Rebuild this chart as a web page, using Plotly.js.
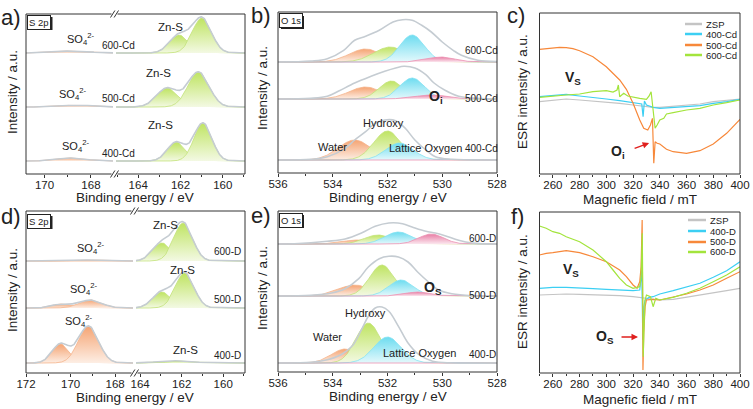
<!DOCTYPE html>
<html><head><meta charset="utf-8">
<script src="https://cdn.plot.ly/plotly-3.0.1.min.js"></script>
<style>html,body{margin:0;padding:0;background:#fff;}#plot{width:753px;height:409px;}</style>
</head><body><div id="plot"></div>
<script>
// ---------------- DATA ----------------
// Panel a (S 2p, Cd samples) - order: 600-Cd, 500-Cd, 400-Cd
const A_SAMPLES = ['600-Cd','500-Cd','400-Cd'];
const A_BASE = [121, 67, 13];
const A_ZNS1_E = [160.99, 161.15, 160.94];
const A_ZNS1_AMP = [35, 35, 38];
const A_ZNS1_SIG = [0.45, 0.5, 0.42];
const A_ZNS2_E = [162.07, 162.63, 162.2];
const A_ZNS2_AMP = [18, 19, 19];
const A_ZNS2_SIG = [0.45, 0.5, 0.42];
const A_SO4_E = [168.8, 168.6, 168.85];
const A_SO4_AMP = [2, 1.8, 3];
const A_SO4_SIG = [0.7, 0.7, 0.6];

// Panel b (O 1s, Cd samples)
const B_SAMPLES = ['600-Cd','500-Cd','400-Cd'];
const B_BASE = [111, 74, 13];
const B_WATER_E = [532.8, 532.8, 533.2];
const B_WATER_AMP = [13, 12, 20];
const B_WATER_SIG = [0.6, 0.6, 0.6];
const B_HYD_E = [531.9, 531.85, 532.0];
const B_HYD_AMP = [15, 18, 29];
const B_HYD_SIG = [0.6, 0.45, 0.5];
const B_LAT_E = [531.1, 531.1, 531.56];
const B_LAT_AMP = [27, 21, 17];
const B_LAT_SIG = [0.45, 0.45, 0.5];
const B_OI_E = [530.05, 530.4, 530.2];
const B_OI_AMP = [5, 4, 0];
const B_OI_SIG = [0.5, 0.6, 0.5];
// measured envelopes (height above baseline)
const B_ENV_600_E = [536,534.8,534.2,533.6,533.2,532.8,532.3,531.8,531.45,531.1,530.75,530.4,530.0,529.6,529.3,528.7,528];
const B_ENV_600_H = [0,1,3.3,11.7,21.7,25.7,31.7,40,42.3,41.7,36.7,30,20,11.7,6.7,1.7,0.5];
const B_ENV_500_E = [536,534.8,534.2,533.8,533.2,532.6,532.1,531.7,531.4,531.0,530.6,530.3,529.9,529.4,528.7,528];
const B_ENV_500_H = [0,0.7,2.7,7.7,16,22.7,27.7,31,32.7,31,24.3,16,8.7,2.7,0.7,0];
const B_ENV_400_E = [536,534.8,534.2,533.55,533.2,532.8,532.45,532.1,531.7,531.35,531.0,530.6,530.25,529.65,528];
const B_ENV_400_H = [0,0.7,3.3,11.7,20,28.3,36.7,40,39.3,31.7,20,10,3.3,0.7,0];

// Panel c (ESR, Cd samples)
const C_SERIES = ['ZSP','400-Cd','500-Cd','600-Cd'];
const C_ZSP_X = [250,260,270,280,290,300,310,320,330,335,340,350,360,370,380,390,400];
const C_ZSP_Y = [72.3,74,75,74,73,72.3,70.7,69,67.3,66.7,66.7,68,69,70,72.3,74,75];
const C_400_X = [250,260,270,280,290,300,310,320,325,326.5,327.5,328.5,330,335,340,350,360,370,380,390,400];
const C_400_Y = [77.3,78.3,79.7,78,76.7,75,73.3,71.3,70.7,70,57.3,73,69,66.7,65.7,66.7,67.3,68.3,70.7,72.3,74.7];
const C_500_X = [250,255,260,265,270,275,280,290,300,310,315,320,325,328,331,333,334.5,335.5,336.5,338,340,345,350,360,370,380,390,400];
const C_500_Y = [124.7,125.3,126.3,126.7,126.3,125.3,123.3,117.3,107.3,94,84.7,70.7,54,45.7,44,49,55.7,10.7,32.3,30.7,30,24.7,22.3,20.7,23.3,30,40.7,54.7];
const C_600_X = [250,260,270,280,290,300,305,308,309,310,313,316,320,325,330,332,333.5,335,336.5,338,340,343,345,350,360,370,380,390,400];
const C_600_Y = [76.7,77.5,79,80,82.3,83.3,82,84,89,77.3,80.7,78,76.7,75.7,74.7,78,82.3,60.7,45.7,49,54,55.7,60,61.3,64,65.7,69,71.3,74];

// Panel d (S 2p, D samples) - order: 600-D, 500-D, 400-D
const D_SAMPLES = ['600-D','500-D','400-D'];
const D_BASE = [112, 65, 10];
const D_ZNS1_E = [161.93, 161.86, 162.0];
const D_ZNS1_AMP = [38, 35, 2];
const D_ZNS1_SIG = [0.45, 0.45, 0.6];
const D_ZNS2_E = [162.95, 162.95, 163.0];
const D_ZNS2_AMP = [18, 16, 1];
const D_ZNS2_SIG = [0.45, 0.45, 0.6];
const D_SO4A_E = [170.3, 170.4, 170.45];
const D_SO4A_AMP = [0.5, 4, 19];
const D_SO4A_SIG = [0.5, 0.42, 0.38];
const D_SO4B_E = [169.0, 169.1, 169.2];
const D_SO4B_AMP = [1, 8, 37];
const D_SO4B_SIG = [0.5, 0.5, 0.45];

// Panel e (O 1s, D samples)
const E_SAMPLES = ['600-D','500-D','400-D'];
const E_BASE = [128, 76, 9];
const E_WATER_E = [533.1, 533.2, 533.55];
const E_WATER_AMP = [4, 11, 14];
const E_WATER_SIG = [0.55, 0.6, 0.5];
const E_HYD_E = [532.35, 532.2, 532.7];
const E_HYD_AMP = [9, 31, 40];
const E_HYD_SIG = [0.5, 0.45, 0.45];
const E_LAT_E = [531.6, 531.5, 532.0];
const E_LAT_AMP = [12, 16, 26];
const E_LAT_SIG = [0.5, 0.45, 0.5];
const E_OS_E = [530.4, 530.9, 530.5];
const E_OS_AMP = [10, 4, 0];
const E_OS_SIG = [0.45, 0.45, 0.5];
const E_ENV_600_E = [536,535.4,534.2,533.55,532.95,532.45,531.95,531.45,531.1,530.6,530.25,529.9,529.4,528.9,528];
const E_ENV_600_H = [0,0.3,2.7,5,11,17.7,21,20.3,17,12.7,11,8.3,3.7,1,0];
const E_ENV_500_E = [536,534.8,534.05,533.55,533.05,532.7,532.3,531.95,531.6,531.25,530.9,530.5,530.15,529.65,528.9,528];
const E_ENV_500_H = [0,0.7,3,7.3,17.3,29,37.3,39.7,39,34,24,14,6.3,2.3,0.3,0];
const E_ENV_400_E = [536,534.8,534.2,533.7,533.3,532.95,532.7,532.45,532.2,531.95,531.6,531.25,530.85,530.35,529.65,528];
const E_ENV_400_H = [0,0.7,3.3,8.3,16.7,33.3,46.7,55,56,51.7,36.7,20,8.3,1.7,0,0];

// Panel f (ESR, D samples)
const F_SERIES = ['ZSP','400-D','500-D','600-D'];
const F_ZSP_X = [250,260,270,280,290,300,310,320,330,340,350,360,370,380,390,400];
const F_ZSP_Y = [78,78.7,79,78.7,78.3,78,77.3,76.3,74.7,73,73.7,75.7,77.7,79.7,82.3,84.7];
const F_400_X = [250,260,270,280,290,300,310,320,325,326.5,327.3,328,329,332,335,340,350,360,370,380,390,400];
const F_400_Y = [84.7,85.7,85.7,84.7,84.3,83.7,83,82.3,83,103,33,66.3,73,75.7,76.3,79,82.3,85.7,89.7,95.7,102.3,111.3];
const F_500_X = [250,255,260,265,270,275,280,290,300,310,315,320,323,325,326,326.8,327.4,328,329,330,335,340,350,360,370,380,390,400];
const F_500_Y = [118,119.7,120.3,121.3,122.3,121.3,120.3,116.3,111.3,103,96.3,88,84.7,91.3,106.3,153,3,39.7,66.3,73,73.7,73,75.7,79,83,88,94.7,101.3];
const F_600_X = [250,255,260,265,270,280,290,300,305,310,315,320,325,326,326.9,327.6,328.2,329,330,333,335,337,340,350,360,370,380,390,400];
const F_600_Y = [147,144.7,141.3,139.7,136.3,131.3,123,111.3,103,94.7,88,84.7,86.3,96.3,139.7,16.3,46.3,73,78,76.3,66.3,74.7,73,75.7,79.7,84.7,91.3,98,106.3];

// ---------------- STYLE ----------------
const W = 753, H = 409;
const FONT = 'Liberation Sans, Arial, sans-serif';
const fx = p => p / W;
const fy = p => 1 - p / H;
const COL = {
  green: {line:'#c3e27a', scale:[[0,'#f3f9e3'],[1,'#bfe462']]},
  orange:{line:'#f5b48c', scale:[[0,'#fdeee4'],[1,'#f5a473']]},
  cyan:  {line:'#84e2f2', scale:[[0,'#e4f9fc'],[1,'#6ddcf0']]},
  pink:  {line:'#ec92b2', scale:[[0,'#fbe6ee'],[1,'#e87ea5']]}
};
const ENV = '#c5ccd2';

function curve(xmin, xmax, comps, base) {
  const xs = [], ys = [];
  const n = Math.round((xmax - xmin) / 0.02);
  for (let i = 0; i <= n; i++) {
    const x = xmin + i * (xmax - xmin) / n;
    let y = base;
    comps.forEach(c => { y += c.a * Math.exp(-((x - c.e) ** 2) / (2 * c.s * c.s)); });
    xs.push(x); ys.push(y);
  }
  return {xs, ys};
}
const traces = [];
function addComp(xa, ya, xmin, xmax, comp, base, color) {
  const c = curve(xmin, xmax, [comp], base);
  traces.push({type:'scatter', mode:'lines', x:c.xs, y:c.ys, xaxis:xa, yaxis:ya,
    fill:'toself', fillgradient:{type:'vertical', colorscale:COL[color].scale},
    line:{color:COL[color].line, width:0.8}, hoverinfo:'skip', showlegend:false});
}
function addEnv(xa, ya, xmin, xmax, comps, base) {
  const c = curve(xmin, xmax, comps, base);
  traces.push({type:'scatter', mode:'lines', x:c.xs, y:c.ys, xaxis:xa, yaxis:ya,
    line:{color:ENV, width:1.6}, hoverinfo:'skip', showlegend:false});
}
function addMeasEnv(xa, ya, es, hs, base) {
  traces.push({type:'scatter', mode:'lines', x:es, y:hs.map(h => h + base), xaxis:xa, yaxis:ya,
    line:{color:ENV, width:1.6, shape:'spline', smoothing:1}, hoverinfo:'skip', showlegend:false});
}

// Panel a
const A_L = [170.8, 167.05], A_R = [165.05, 158.95];
for (let i = 0; i < 3; i++) {
  const so4 = {e:A_SO4_E[i], a:A_SO4_AMP[i], s:A_SO4_SIG[i]};
  const z1 = {e:A_ZNS1_E[i], a:A_ZNS1_AMP[i], s:A_ZNS1_SIG[i]};
  const z2 = {e:A_ZNS2_E[i], a:A_ZNS2_AMP[i], s:A_ZNS2_SIG[i]};
  addComp('x','y', A_L[1], A_L[0], so4, A_BASE[i], 'orange');
  addEnv('x','y', A_L[1], A_L[0], [so4], A_BASE[i]);
  addComp('x2','y', A_R[1], A_R[0], z2, A_BASE[i], 'green');
  addComp('x2','y', A_R[1], A_R[0], z1, A_BASE[i], 'green');
  addEnv('x2','y', A_R[1], A_R[0], [z1, z2], A_BASE[i]);
}
// Panel d
const D_L = [172.0, 167.2], D_R = [164.2, 158.95];
for (let i = 0; i < 3; i++) {
  const sa = {e:D_SO4A_E[i], a:D_SO4A_AMP[i], s:D_SO4A_SIG[i]};
  const sb = {e:D_SO4B_E[i], a:D_SO4B_AMP[i], s:D_SO4B_SIG[i]};
  const z1 = {e:D_ZNS1_E[i], a:D_ZNS1_AMP[i], s:D_ZNS1_SIG[i]};
  const z2 = {e:D_ZNS2_E[i], a:D_ZNS2_AMP[i], s:D_ZNS2_SIG[i]};
  addComp('x5','y5', D_L[1], D_L[0], sa, D_BASE[i], 'orange');
  addComp('x5','y5', D_L[1], D_L[0], sb, D_BASE[i], 'orange');
  addEnv('x5','y5', D_L[1], D_L[0], [sa, sb], D_BASE[i]);
  addComp('x6','y5', D_R[1], D_R[0], z2, D_BASE[i], 'green');
  addComp('x6','y5', D_R[1], D_R[0], z1, D_BASE[i], 'green');
  addEnv('x6','y5', D_R[1], D_R[0], [z1, z2], D_BASE[i]);
}
// Panels b, e
function o1s(xa, ya, BASE, WE, WA, WS, HE, HA, HS, LE, LA, LS, OE, OA, OS, ENVS) {
  for (let i = 0; i < 3; i++) {
    const w = {e:WE[i], a:WA[i], s:WS[i]}, h = {e:HE[i], a:HA[i], s:HS[i]};
    const l = {e:LE[i], a:LA[i], s:LS[i]}, o = {e:OE[i], a:OA[i], s:OS[i]};
    addComp(xa, ya, 528, 536, w, BASE[i], 'orange');
    addComp(xa, ya, 528, 536, h, BASE[i], 'green');
    addComp(xa, ya, 528, 536, l, BASE[i], 'cyan');
    addComp(xa, ya, 528, 536, o, BASE[i], 'pink');
    addMeasEnv(xa, ya, ENVS[i][0], ENVS[i][1], BASE[i]);
  }
}
o1s('x3','y3', B_BASE, B_WATER_E, B_WATER_AMP, B_WATER_SIG, B_HYD_E, B_HYD_AMP, B_HYD_SIG, B_LAT_E, B_LAT_AMP, B_LAT_SIG, B_OI_E, B_OI_AMP, B_OI_SIG,
  [[B_ENV_600_E, B_ENV_600_H], [B_ENV_500_E, B_ENV_500_H], [B_ENV_400_E, B_ENV_400_H]]);
o1s('x7','y7', E_BASE, E_WATER_E, E_WATER_AMP, E_WATER_SIG, E_HYD_E, E_HYD_AMP, E_HYD_SIG, E_LAT_E, E_LAT_AMP, E_LAT_SIG, E_OS_E, E_OS_AMP, E_OS_SIG,
  [[E_ENV_600_E, E_ENV_600_H], [E_ENV_500_E, E_ENV_500_H], [E_ENV_400_E, E_ENV_400_H]]);

// ESR
const ESR_COL = ['#c4c4c4', '#3ccff3', '#f7883a', '#a3e43c'];
[[C_ZSP_X,C_ZSP_Y],[C_400_X,C_400_Y],[C_500_X,C_500_Y],[C_600_X,C_600_Y]].forEach((d, i) => {
  traces.push({type:'scatter', mode:'lines', x:d[0], y:d[1], xaxis:'x4', yaxis:'y4', name:C_SERIES[i],
    line:{color:ESR_COL[i], width:1.2}, showlegend:false, hoverinfo:'skip'});
});
[[F_ZSP_X,F_ZSP_Y],[F_400_X,F_400_Y],[F_500_X,F_500_Y],[F_600_X,F_600_Y]].forEach((d, i) => {
  traces.push({type:'scatter', mode:'lines', x:d[0], y:d[1], xaxis:'x8', yaxis:'y8', name:F_SERIES[i],
    line:{color:ESR_COL[i], width:1.2}, showlegend:false, hoverinfo:'skip'});
});

// ---------------- LAYOUT ----------------
function xax(px0, px1, range, anchor, dtick, mdtick) {
  return {domain:[fx(px0), fx(px1)], range:range, anchor:anchor, showgrid:false, zeroline:false,
    showline:false, ticks:'outside', ticklen:3, tickwidth:1, tickcolor:'#333', dtick:dtick, tick0:0,
    ticklabelstandoff:-3,
    minor:{ticks:'outside', ticklen:2, dtick:mdtick, tick0:0, tickcolor:'#333', showgrid:false},
    tickfont:{size:11.5, color:'#222', family:FONT}, fixedrange:true};
}
function yax(py0, py1, range, anchor) {
  return {domain:[fy(py1), fy(py0)], range:range, anchor:anchor, showgrid:false, zeroline:false,
    showline:false, showticklabels:false, ticks:'', fixedrange:true};
}
const layout = {
  width:W, height:H, margin:{l:0, r:0, t:0, b:0}, paper_bgcolor:'#fff', plot_bgcolor:'rgba(0,0,0,0)',
  showlegend:false, font:{family:FONT, color:'#222'},
  xaxis: xax(26, 113, [A_L[0], A_L[1]], 'y', 2, 1),
  xaxis2: xax(116, 245, [A_R[0], A_R[1]], 'y', 2, 1),
  yaxis: yax(14, 174, [0, 160], 'x'),
  xaxis3: xax(278, 497, [536, 528], 'y3', 2, 1),
  yaxis3: yax(12, 173, [0, 161], 'x3'),
  xaxis4: xax(539.5, 740, [250, 400], 'y4', 20, 10),
  yaxis4: yax(13, 174, [0, 161], 'x4'),
  xaxis5: xax(26, 133, [D_L[0], D_L[1]], 'y5', 2, 1),
  xaxis6: xax(136, 245, [D_R[0], D_R[1]], 'y5', 2, 1),
  yaxis5: yax(211, 373, [0, 162], 'x5'),
  xaxis7: xax(278, 497, [536, 528], 'y7', 2, 1),
  yaxis7: yax(211, 372, [0, 161], 'x7'),
  xaxis8: xax(539.5, 740, [250, 400], 'y8', 20, 10),
  yaxis8: yax(212, 373, [0, 161], 'x8'),
  shapes: [], annotations: []
};
function frame(x0, y0, x1, y1) {
  layout.shapes.push({type:'rect', xref:'paper', yref:'paper', x0:fx(x0), x1:fx(x1), y0:fy(y1), y1:fy(y0),
    line:{color:'#333', width:1}, fillcolor:'rgba(0,0,0,0)', layer:'above'});
}
frame(26, 14, 245, 174); frame(278, 12, 497, 173); frame(539.5, 13, 740, 174);
frame(26, 211, 245, 373); frame(278, 211, 497, 372); frame(539.5, 212, 740, 373);
function brk(px, py) {
  layout.shapes.push({type:'rect', xref:'paper', yref:'paper', x0:fx(px-3), x1:fx(px+3), y0:fy(py+1), y1:fy(py-1),
    line:{width:0}, fillcolor:'#fff', layer:'above'});
  [-1.8, 1.8].forEach(d => layout.shapes.push({type:'line', xref:'paper', yref:'paper',
    x0:fx(px+d-2.2), x1:fx(px+d+2.2), y0:fy(py+3.5), y1:fy(py-3.5), line:{color:'#333', width:1}, layer:'above'}));
}
brk(114.5, 174); brk(114.5, 14); brk(134.5, 373); brk(134.5, 211);
// drop shadows of the little boxed labels
function shadow(x0, y0, x1, y1) {
  layout.shapes.push({type:'rect', xref:'paper', yref:'paper', x0:fx(x0), x1:fx(x1), y0:fy(y1), y1:fy(y0),
    line:{width:0}, fillcolor:'#222', layer:'above'});
}
shadow(29, 17, 52.5, 30); shadow(281, 16, 304, 29); shadow(29, 216, 52.5, 229); shadow(281, 215, 304, 228);

function ann(text, px, py, size, extra) {
  layout.annotations.push(Object.assign({text:text, x:fx(px), y:fy(py), xref:'paper', yref:'paper',
    showarrow:false, xanchor:'center', yanchor:'middle', font:{size:size, color:'#222', family:FONT}}, extra || {}));
}
// panel letters
ann('a)', 11, 17, 22); ann('b)', 261, 15, 22); ann('c)', 516, 15, 22);
ann('d)', 11, 217, 22); ann('e)', 261, 215, 22); ann('f)', 517, 217, 22);
// boxes
const boxStyle = {bordercolor:'#222', borderwidth:1, bgcolor:'#fff', borderpad:1};
ann('S 2p', 39, 22, 9.5, boxStyle); ann('O 1s', 291, 21, 9.5, boxStyle);
ann('S 2p', 39, 221, 9.5, boxStyle); ann('O 1s', 291, 220, 9.5, boxStyle);
// axis titles
ann('Binding energy / eV', 135, 197, 13.5); ann('Binding energy / eV', 388, 197, 13.5);
ann('Magnefic field / mT', 640, 199, 13.5);
ann('Binding energy / eV', 135, 397, 13.5); ann('Binding energy / eV', 388, 396, 13.5);
ann('Magnefic field / mT', 640, 399, 13.5);
ann('Intensity / a.u.', 12, 92, 13.5, {textangle:-90}); ann('Intensity / a.u.', 262, 88, 13.5, {textangle:-90});
ann('ESR intensity / a.u.', 522, 92, 13.5, {textangle:-90});
ann('Intensity / a.u.', 12, 290, 13.5, {textangle:-90}); ann('Intensity / a.u.', 262, 288, 13.5, {textangle:-90});
ann('ESR intensity / a.u.', 522, 292, 13.5, {textangle:-90});
// panel a labels
const SO4 = 'SO<sub>4</sub><sup>2-</sup>';
ann('Zn-S', 170, 27, 11.5); ann(SO4, 80, 39, 11); ann(A_SAMPLES[0], 118, 45, 10);
ann('Zn-S', 158, 73, 11.5); ann(SO4, 72, 94, 11); ann(A_SAMPLES[1], 118, 98, 10);
ann('Zn-S', 160, 125, 11.5); ann(SO4, 75, 146, 11); ann(A_SAMPLES[2], 118, 153, 10);
// panel b labels
ann(B_SAMPLES[0], 481, 50, 10); ann(B_SAMPLES[1], 481, 99, 10); ann(B_SAMPLES[2], 481, 149, 10);
ann('<b>O<sub>i</sub></b>', 436, 97, 14);
ann('Hydroxy', 383, 123, 11); ann('Water', 332, 147, 11); ann('Lattice Oxygen', 425, 148, 11);
// panel d labels
ann('Zn-S', 165, 225, 11.5); ann(SO4, 90, 248, 11); ann(D_SAMPLES[0], 227, 252, 10);
ann('Zn-S', 182, 270, 11.5); ann(SO4, 83, 289, 11); ann(D_SAMPLES[1], 227, 299, 10);
ann(SO4, 78, 321, 11); ann('Zn-S', 185, 350, 11.5); ann(D_SAMPLES[2], 227, 355, 10);
// panel e labels
ann(E_SAMPLES[0], 482, 238, 10); ann(E_SAMPLES[1], 482, 295, 10); ann(E_SAMPLES[2], 482, 354, 10);
ann('<b>O<sub>S</sub></b>', 433, 288, 14);
ann('Hydroxy', 365, 313, 11); ann('Water', 327, 337, 11); ann('Lattice Oxygen', 420, 353, 11);
// panel c/f labels
ann('<b>V<sub>S</sub></b>', 573, 78, 14); ann('<b>O<sub>i</sub></b>', 618, 152, 14);
ann('<b>V<sub>S</sub></b>', 571, 270, 14); ann('<b>O<sub>S</sub></b>', 605, 337, 14);
// arrows
layout.annotations.push({xref:'x4', yref:'y4', x:332, y:31, ax:-16, ay:6, text:'', showarrow:true,
  arrowhead:2, arrowsize:1, arrowwidth:1.3, arrowcolor:'#e0201e'});
layout.annotations.push({xref:'x8', yref:'y8', x:323.7, y:36, ax:-18, ay:0, text:'', showarrow:true,
  arrowhead:2, arrowsize:1, arrowwidth:1.3, arrowcolor:'#e0201e'});
// manual legends
function legend(names, lx0, lx1, ys) {
  names.forEach((n, i) => {
    layout.shapes.push({type:'line', xref:'paper', yref:'paper', x0:fx(lx0), x1:fx(lx1), y0:fy(ys[i]), y1:fy(ys[i]),
      line:{color:ESR_COL[i], width:2.5}});
    ann(n, lx1 + 2, ys[i], 9.5, {xanchor:'left'});
  });
}
legend(C_SERIES, 685, 702, [24, 34, 45, 55]);
legend(F_SERIES, 688, 706, [220, 231, 242, 252]);

Plotly.newPlot('plot', traces, layout, {staticPlot:true, displayModeBar:false});
</script></body></html>
